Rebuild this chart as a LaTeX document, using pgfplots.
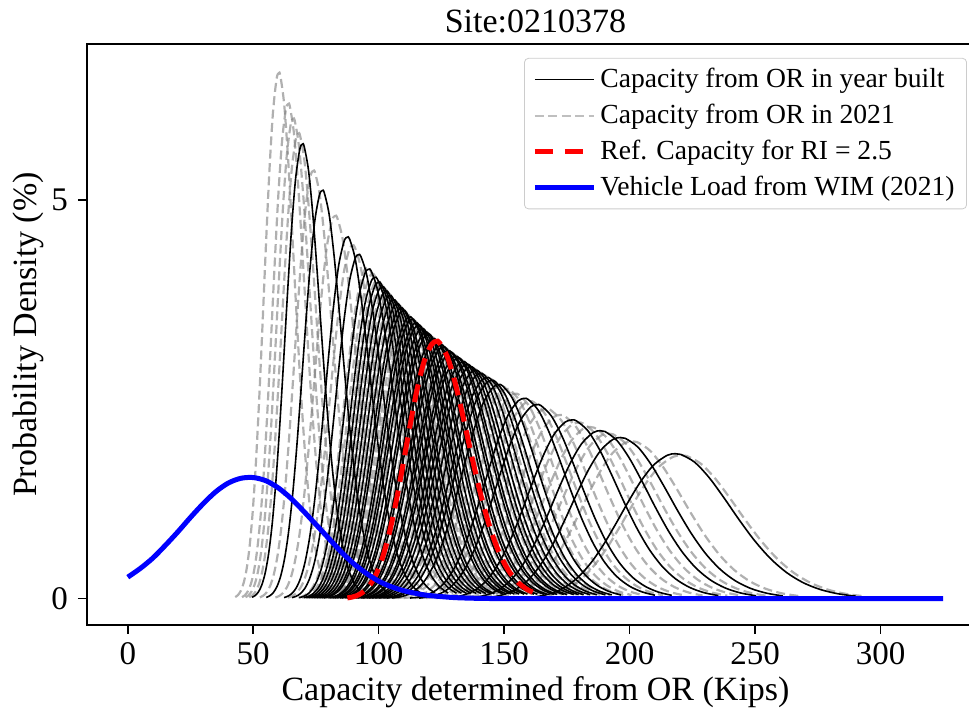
\documentclass[border=0pt]{standalone}
\usepackage{fontspec}
\setmainfont{Liberation Serif}
\usepackage{pgfplots}
\pgfplotsset{compat=1.18}
\usepackage{pgfplotstable}

% normalised capacity density shape (median 1, CoV 0.1): r = x/median, f = density*median
\pgfplotstableread{
r f
0.70469 0.01238
0.72253 0.02808
0.74082 0.05982
0.75957 0.11972
0.77880 0.22506
0.79852 0.39748
0.81873 0.65945
0.83946 1.02778
0.86071 1.50478
0.88250 2.06968
0.90484 2.67416
0.92774 3.24589
0.95123 3.70118
0.97531 3.96454
0.99005 4.00947
1.00000 3.98942
1.02532 3.77111
1.05127 3.34899
1.07788 2.79382
1.10517 2.18946
1.13315 1.61184
1.16183 1.11478
1.19125 0.72426
1.22140 0.44204
1.25232 0.25345
1.28403 0.13651
1.31653 0.06907
}\shape

% vehicle load from WIM (2021)
\pgfplotstableread{
x y
0 0.27
5 0.38
10 0.51
15 0.67
20 0.84
25 1.02
30 1.19
35 1.34
40 1.45
45 1.51
50 1.52
55 1.48
60 1.39
65 1.26
70 1.10
75 0.93
80 0.76
85 0.59
90 0.44
95 0.32
100 0.22
105 0.15
110 0.10
115 0.065
120 0.04
130 0.014
140 0.004
150 0.001
160 0
325 0
}\wim

\begin{document}
\begin{tikzpicture}
\begin{axis}[
  scale only axis, width=448.5pt, height=290.5pt,
  xmin=-16.25, xmax=341.25, ymin=-0.33, ymax=6.96,
  xtick={0,50,100,150,200,250,300}, ytick={0,5},
  tick align=outside, major tick length=4.5pt,
  tick style={black, line width=0.75pt},
  axis line style={line width=0.75pt},
  xtick pos=bottom, ytick pos=left,
  /pgf/number format/assume math mode=true,
  ticklabel style={font=\fontsize{16.5}{19}\selectfont},
  xticklabel style={yshift=-1pt},
  yticklabel style={xshift=-1.5pt},
  label style={font=\fontsize{17}{20}\selectfont},
  xlabel={Capacity determined from OR (Kips)},
  ylabel={Probability Density (\%)},
  xlabel style={at={(axis description cs:0.5,-0.115)}, anchor=center},
  ylabel style={at={(axis description cs:-0.0658,0.5)}, anchor=center},
  title={Site:0210378},
  title style={font=\fontsize{17}{20}\selectfont, at={(axis description cs:0.5,1)}, anchor=base, yshift=-0.5pt},
  no markers,
  legend cell align=left,
  legend image code/.code={\draw[#1] (0pt,0pt) -- (29.5pt,0pt);},
  legend style={at={(axis description cs:0.981,0.976)}, anchor=north east,
    font=\fontsize{13.8}{16}\selectfont, draw=black!20, rounded corners=2pt,
    fill=white, fill opacity=0.8, text opacity=1, row sep=2.8pt,
    inner xsep=4pt, inner ysep=3pt},
  grayc/.style={color=gray, opacity=0.62, line width=1.1pt, dash pattern=on 4.5pt off 2.2pt, smooth},
  blackc/.style={color=black, line width=0.8pt, smooth},
]
% capacity from OR in 2021 (medians)
\pgfplotsinvokeforeach{60.8,64.6,66.6,68.7,74.7,83.5,90.5,96.5,98.5,100.5,102,103.5,105,106.5,108,109.5,111,112,113,114.5,115.5,117,118,120,121,122.5,124,125.5,127,128.5,130,131.5,133,134.5,136,138,139.5,141.5,143,146,150,152.5,156,162,168.5,174,181.5,186,193.5,203,222.8}{
  \addplot[grayc, forget plot] table[x expr=\thisrow{r}*#1, y expr=\thisrow{f}*100/#1]{\shape};
}
% capacity from OR in year built
\pgfplotsinvokeforeach{70.3,78.3,88.4,92.9,97,99.5,101,102.5,104,105.5,107,108.5,110,111,113.5,114.5,116,117,118.5,120,121,123,124,126,127,129,130,132,133,135,136.5,138,140,142,144.6,146.5,149.3,159.6,164.7,178.8,190.2,198.3,220.4}{
  \addplot[blackc, forget plot] table[x expr=\thisrow{r}*#1, y expr=\thisrow{f}*100/#1]{\shape};
}
% reference capacity
\addplot[red, line width=2.5pt, dash pattern=on 9pt off 4.5pt, smooth, forget plot] table[x expr=\thisrow{r}*124.2, y expr=\thisrow{f}*100/124.2]{\shape};
% vehicle load
\addplot[blue, line width=2.5pt, smooth, forget plot] table[x=x, y=y]{\wim};

\addlegendimage{black, line width=0.8pt}
\addlegendentry{Capacity from OR in year built}
\addlegendimage{color=black!25, line width=1pt, dash pattern=on 4.5pt off 2.2pt}
\addlegendentry{Capacity from OR in 2021}
\addlegendimage{red, line width=2.5pt, dash pattern=on 9pt off 6pt}
\addlegendentry{Ref. Capacity for RI = 2.5}
\addlegendimage{blue, line width=2.5pt}
\addlegendentry{Vehicle Load from WIM (2021)}
\end{axis}
\pgfresetboundingbox
\path[use as bounding box] ([shift={(-43.5pt,-46pt)}]current axis.south west) rectangle ([shift={(-7.5pt,22pt)}]current axis.north east);
\end{tikzpicture}
\end{document}
